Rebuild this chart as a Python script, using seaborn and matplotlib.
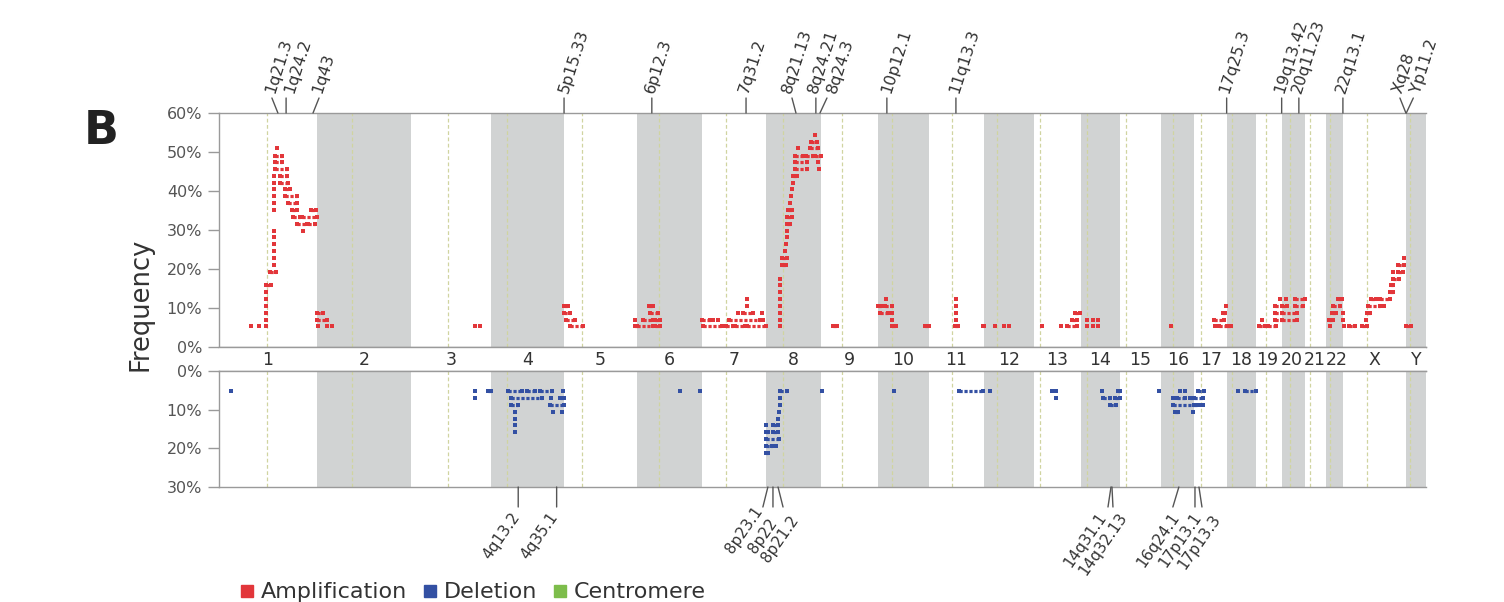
import numpy as np
import pandas as pd
import matplotlib
matplotlib.use("Agg")
import matplotlib.pyplot as plt
from matplotlib.lines import Line2D
import seaborn as sns

# ---------------- data ----------------
CHROMS = ["1", "2", "3", "4", "5", "6", "7", "8", "9", "10", "11", "12",
          "13", "14", "15", "16", "17", "18", "19", "20", "21", "22", "X", "Y"]
CHROM_LEN = [251, 241, 205, 187, 187, 167, 164, 141, 146, 131, 141, 128,
             120.5, 100, 105, 86, 83, 74, 67, 59, 54, 44, 161.5, 51]
CENTROMERE = [123, 90, 94, 42.5, 47, 56, 61, 43, 55, 37, 58, 34,
              15, 16, 15, 30, 18, 12, 27, 20.5, 13, 10, 61, 10]

# (chromosome, start Mb, end Mb, frequency %)
AMP_SEGMENTS = [
    ("1", 81, 81, 5.3), ("1", 103, 103, 5.3), ("1", 120.5, 120.5, 5.3),
    ("1", 120.5, 120.5, 7.0), ("1", 120.5, 120.5, 8.8), ("1", 120.5, 120.5, 10.5),
    ("1", 120.5, 120.5, 12.3), ("1", 120.5, 120.5, 14.0), ("1", 120, 133, 15.8),
    ("1", 131, 145, 19.3),
    ("1", 141, 141, 21.1), ("1", 141, 141, 22.8), ("1", 141, 141, 24.6), ("1", 141, 141, 26.3),
    ("1", 141, 141, 28.1), ("1", 141, 141, 29.8), ("1", 141, 141, 35.1), ("1", 141, 141, 36.8),
    ("1", 141, 141, 38.6), ("1", 141, 141, 40.4), ("1", 141, 141, 42.1), ("1", 141, 141, 43.9),
    ("1", 148, 148, 50.9), ("1", 143.5, 161, 49.1), ("1", 143.5, 161, 47.4),
    ("1", 143.5, 173.5, 45.6), ("1", 156, 173.5, 43.9), ("1", 156, 177, 42.1),
    ("1", 169, 182, 40.4), ("1", 169, 199, 38.6), ("1", 177, 199, 36.8),
    ("1", 186, 199, 35.1), ("1", 235, 249, 35.1), ("1", 189, 208, 33.3), ("1", 212, 250, 33.3),
    ("1", 199, 225, 31.6), ("1", 228, 246, 31.6), ("1", 216, 216, 29.8),
    ("2", 0, 14.5, 8.8), ("2", 1, 25, 7.0), ("2", 3, 3, 5.3), ("2", 25, 25, 5.3), ("2", 39, 39, 5.3),
    ("3", 164, 164, 5.3), ("3", 177, 177, 5.3),
    ("5", 0, 11, 10.5), ("5", 0, 17, 8.8), ("5", 5, 28, 7.0), ("5", 17, 48, 5.3),
    ("5", 182, 182, 7.0), ("5", 182, 187, 5.3),
    ("6", 31, 41, 10.5), ("6", 33, 54, 8.8), ("6", 15, 41, 7.0), ("6", 46, 59, 7.0),
    ("6", 0, 41, 5.3), ("6", 46, 59, 5.3),
    ("7", 0, 20.5, 7.0), ("7", 28, 28, 7.0), ("7", 42, 42, 7.0), ("7", 69, 149, 7.0),
    ("7", 155.6, 155.6, 7.0), ("7", 2, 50.5, 5.3), ("7", 54, 54, 5.3), ("7", 61.5, 79.5, 5.3),
    ("7", 84.6, 110, 5.3), ("7", 114.6, 164, 5.3), ("7", 91.5, 91.5, 8.8), ("7", 105, 131, 8.8),
    ("7", 153, 153, 8.8), ("7", 116, 116, 10.5), ("7", 116, 116, 12.3),
    ("8", 36, 36, 5.3), ("8", 36, 36, 7.0), ("8", 36, 36, 8.8), ("8", 36, 36, 10.5),
    ("8", 36, 36, 12.3), ("8", 36, 36, 14.0), ("8", 36, 36, 15.8), ("8", 36, 36, 17.5),
    ("8", 40, 51, 21.1), ("8", 40, 53, 22.8), ("8", 49, 49, 24.6), ("8", 51, 51, 26.3),
    ("8", 53, 53, 28.1), ("8", 54.7, 54.7, 29.8), ("8", 54, 61.5, 31.6), ("8", 54, 66, 33.3),
    ("8", 57, 66, 35.1), ("8", 61.5, 61.5, 36.8), ("8", 64, 64, 38.6), ("8", 66, 66, 40.4),
    ("8", 68.5, 68.5, 42.1), ("8", 70, 79, 43.9), ("8", 74, 104, 45.6), ("8", 136, 136, 45.6),
    ("8", 74, 104, 47.4), ("8", 133, 133, 47.4), ("8", 74, 95, 49.1), ("8", 102.6, 120.5, 49.1),
    ("8", 125.6, 141, 49.1), ("8", 81, 81, 50.9), ("8", 113, 134, 50.9), ("8", 114.6, 130, 52.6),
    ("8", 125.6, 125.6, 54.4),
    ("9", 31, 40, 5.3),
    ("10", 22, 22, 12.3), ("10", 0, 9.5, 10.5), ("10", 18, 35, 10.5), ("10", 5, 25.6, 8.8),
    ("10", 35, 35, 8.8), ("10", 36.7, 36.7, 7.0), ("10", 36.7, 46, 5.3), ("10", 120.5, 130, 5.3),
    ("11", 70, 70, 7.0), ("11", 70, 70, 8.8), ("11", 70, 70, 10.5), ("11", 70, 70, 12.3),
    ("11", 67, 74, 5.3), ("11", 138, 140, 5.3),
    ("12", 28, 28, 5.3), ("12", 51, 51, 5.3), ("12", 65, 65, 5.3),
    ("13", 20, 20, 5.3), ("13", 68.5, 68.5, 5.3), ("13", 84, 109.5, 5.3), ("13", 96.7, 111, 7.0),
    ("13", 105.6, 118, 8.8),
    ("14", 16, 16, 5.3), ("14", 31.5, 31.5, 5.3), ("14", 44, 44, 5.3),
    ("14", 16, 16, 7.0), ("14", 31.5, 31.5, 7.0), ("14", 44, 44, 7.0),
    ("16", 25, 25, 5.3),
    ("17", 52.5, 52.5, 5.3), ("17", 63.6, 83, 5.3), ("17", 50, 75.6, 7.0), ("17", 72, 78, 8.8),
    ("17", 81, 81, 10.5),
    ("18", 0, 11, 5.3),
    ("19", 8.5, 23, 5.3), ("19", 31.5, 51, 5.3), ("19", 17, 17, 7.0), ("19", 49, 66.5, 7.0),
    ("19", 49, 66.5, 8.8), ("19", 49, 66.5, 10.5), ("19", 61.5, 61.5, 12.3),
    ("20", 0, 38, 7.0), ("20", 0, 38, 8.8), ("20", 0, 13, 10.5), ("20", 33, 54, 10.5),
    ("20", 10, 10, 12.3), ("20", 33, 59, 12.3),
    ("22", 10, 10, 5.3), ("22", 8.5, 19, 7.0), ("22", 14.6, 27, 8.8), ("22", 18, 36, 10.5),
    ("22", 31, 40, 12.3), ("22", 43, 43, 8.8), ("22", 43, 43, 7.0),
    ("X", 2.6, 2.6, 5.3), ("X", 16, 31, 5.3), ("X", 48, 61, 5.3), ("X", 59, 59, 7.0),
    ("X", 61, 69, 8.8), ("X", 64, 95, 10.5), ("X", 105, 105, 10.5), ("X", 71, 84.6, 12.3),
    ("X", 95, 120.5, 12.3), ("X", 120.5, 127.5, 14.0), ("X", 122, 129, 15.8),
    ("X", 127.5, 144.5, 17.5), ("X", 129, 129, 19.3), ("X", 142, 154.6, 19.3),
    ("X", 142, 156, 21.1), ("X", 156, 156, 22.8),
    ("Y", 0, 12, 5.3),
]

DEL_SEGMENTS = [
    ("1", 30, 30, 5.3),
    ("3", 164, 164, 5.3), ("3", 164, 164, 7.0), ("3", 198, 205, 5.3),
    ("4", 44, 79, 5.3), ("4", 91.5, 113, 5.3), ("4", 125.6, 155.6, 5.3), ("4", 184, 184, 5.3),
    ("4", 50.5, 130, 7.0), ("4", 153, 153, 7.0), ("4", 177, 187, 7.0),
    ("4", 50.5, 70, 8.8), ("4", 151, 187, 8.8),
    ("4", 61.5, 61.5, 10.5), ("4", 160, 160, 10.5), ("4", 181, 181, 10.5),
    ("4", 61.5, 61.5, 12.3), ("4", 61.5, 61.5, 14.0), ("4", 61.5, 61.5, 15.8),
    ("6", 110, 110, 5.3), ("6", 161.5, 161.5, 5.3),
    ("8", 36, 54.6, 5.3), ("8", 36, 36, 7.0), ("8", 36, 36, 8.8), ("8", 33, 33, 10.5),
    ("8", 31.5, 31.5, 12.3), ("8", 0, 0, 14.0), ("8", 17, 31.5, 14.0), ("8", 0, 6, 15.8),
    ("8", 17, 31.5, 15.8), ("8", 0, 33, 17.5), ("8", 0, 14.6, 19.3), ("8", 26, 26, 19.3),
    ("8", 0, 6, 21.1),
    ("9", 2, 2, 5.3),
    ("10", 42, 42, 5.3),
    ("11", 78, 139, 5.3),
    ("12", 15, 15, 5.3),
    ("13", 45.4, 45.4, 5.3), ("13", 56.4, 56.4, 5.3), ("13", 56.4, 56.4, 7.0),
    ("14", 53, 53, 5.3), ("14", 95.6, 100, 5.3), ("14", 55.6, 74, 7.0), ("14", 87, 100, 7.0),
    ("14", 74, 90, 8.8),
    ("15", 101, 101, 5.3),
    ("16", 48.7, 48.7, 5.3), ("16", 61.5, 61.5, 5.3), ("16", 30, 30, 7.0), ("16", 40, 61.5, 7.0),
    ("16", 74, 86, 7.0), ("16", 30, 86, 8.8), ("16", 36, 44, 10.5), ("16", 83, 83, 10.5),
    ("17", 10, 24, 5.3), ("17", 0, 22.5, 7.0), ("17", 0, 5.6, 8.8), ("17", 12.3, 12.3, 8.8),
    ("17", 22.5, 22.5, 8.8),
    ("18", 29, 29, 5.3), ("18", 46, 74, 5.3),
]

# cytoband annotations (chromosome, position Mb, label)
TOP_BANDS = [("1", 151, "1q21.3"), ("1", 172, "1q24.2"), ("1", 241, "1q43"),
             ("5", 0.5, "5p15.33"), ("6", 38.5, "6p12.3"), ("7", 113, "7q31.2"),
             ("8", 77, "8q21.13"), ("8", 128, "8q24.21"), ("8", 138.5, "8q24.3"),
             ("10", 23, "10p12.1"), ("11", 69, "11q13.3"), ("17", 82.5, "17q25.3"),
             ("19", 66.5, "19q13.42"), ("20", 43.6, "20q11.23"), ("22", 43.5, "22q13.1"),
             ("X", 161, "Xq28"), ("Y", 0.5, "Yp11.2")]
BOTTOM_BANDS = [("4", 70, "4q13.2"), ("4", 168.5, "4q35.1"), ("8", 5, "8p23.1"),
                ("8", 18, "8p22"), ("8", 31, "8p21.2"), ("14", 77, "14q31.1"),
                ("14", 79.5, "14q32.13"), ("16", 46, "16q24.1"), ("17", 1.3, "17p13.1"),
                ("17", 11.5, "17p13.3")]

# ---------------- styling (pixel offsets of the labels) ----------------
TOP_FAN_PX = {"1q21.3": -6, "1q43": 6, "8q21.13": -4, "8q24.3": 7, "Xq28": -6, "Yp11.2": 7}
TOP_TEXT_DX = {"1q24.2": 7, "8q24.3": 9, "8q24.21": 1, "8q21.13": -1, "5p15.33": 4,
               "10p12.1": 4, "Yp11.2": 7, "20q11.23": 2}
BOT_FAN_PX = {"8p23.1": -5, "8p21.2": 5, "14q31.1": -3, "14q32.13": 1, "16q24.1": -6, "17p13.3": 3}
BOT_TEXT_D = {"8p23.1": (0, 4), "8p22": (5, 16), "8p21.2": (16, 13), "14q31.1": (-1, 10),
              "14q32.13": (15, 10), "16q24.1": (7, 10), "17p13.1": (7, 10), "17p13.3": (19, 12)}
CHROM_LABEL_NUDGE_PX = {"19": -2, "20": -1.5, "21": -1, "22": 2}

AMP_COLOR = "#e2363a"
DEL_COLOR = "#3350a3"
CEN_COLOR = "#7dbd4b"
CEN_LINE = "#d0d4a0"
BAND_GRAY = "#d1d3d3"
SPINE = "#9a9a9a"
TEXT = "#333333"
TICK = "#555555"

sns.set_theme(style="white")
plt.rcParams["font.family"] = ["DejaVu Sans"]

starts = np.concatenate([[0.0], np.cumsum(CHROM_LEN)[:-1]])
offset = dict(zip(CHROMS, starts))
total = float(np.sum(CHROM_LEN))


def seg_frame(segs, kind):
    df = pd.DataFrame(segs, columns=["chrom", "start", "end", "freq"])
    df["x0"] = df["chrom"].map(offset) + df["start"]
    df["x1"] = df["chrom"].map(offset) + df["end"]
    df["kind"] = kind
    return df


amp = seg_frame(AMP_SEGMENTS, "Amplification")
dele = seg_frame(DEL_SEGMENTS, "Deletion")

W, H = 1504, 602
fig = plt.figure(figsize=(W / 100, H / 100), dpi=100)
L, R = 219 / W, 1426 / W
ax_up = fig.add_axes([L, 1 - 347 / H, R - L, 234 / H])
ax_band = fig.add_axes([L, 1 - 371 / H, R - L, 24 / H])
ax_dn = fig.add_axes([L, 1 - 487 / H, R - L, 116 / H])

for ax in (ax_up, ax_band, ax_dn):
    ax.set_xlim(0, total)
    ax.set_facecolor("white")
    for s in ax.spines.values():
        s.set_color(SPINE)
        s.set_linewidth(1.0)
    ax.spines["right"].set_visible(False)
    ax.set_xticks([])

ax_band.spines["left"].set_visible(False)
ax_band.set_yticks([])

for ax in (ax_up, ax_dn):
    for i, (c, ln, cen) in enumerate(zip(CHROMS, CHROM_LEN, CENTROMERE)):
        if i % 2 == 1:
            ax.axvspan(offset[c], offset[c] + ln, color=BAND_GRAY, lw=0, zorder=0)
        ax.axvline(offset[c] + cen, color=CEN_LINE, lw=0.9, ls=(0, (3, 2)), zorder=1)


def draw(ax, df, color):
    long = df[df["x1"] > df["x0"]]
    ax.hlines(long["freq"], long["x0"], long["x1"], colors=color, linewidth=2.3,
              linestyles=(0, (1.0, 0.55)), zorder=3)
    pts = pd.concat([df[["x0", "freq", "kind"]].rename(columns={"x0": "x"}),
                     df[["x1", "freq", "kind"]].rename(columns={"x1": "x"})])
    sns.scatterplot(data=pts, x="x", y="freq", color=color, marker="s", s=7,
                    linewidth=0, ax=ax, legend=False, zorder=4)
    ax.set_xlabel("")
    ax.set_ylabel("")


draw(ax_up, amp, AMP_COLOR)
draw(ax_dn, dele, DEL_COLOR)

ax_up.set_ylim(0, 60)
ax_up.set_yticks(range(0, 61, 10))
ax_up.set_yticklabels([f"{v}%" for v in range(0, 61, 10)])
ax_dn.set_ylim(30, 0)
ax_dn.set_yticks(range(0, 31, 10))
ax_dn.set_yticklabels([f"{v}%" for v in range(0, 31, 10)])
for ax in (ax_up, ax_dn):
    ax.set_xlim(0, total)
    ax.tick_params(axis="y", direction="out", length=8, width=1, color=SPINE,
                   labelsize=11.5, labelcolor=TICK, pad=4, left=True)

PX2PT = 0.72
for c, ln in zip(CHROMS, CHROM_LEN):
    ax_band.annotate(c, xy=(offset[c] + ln / 2, 0.45), xycoords=("data", "axes fraction"),
                     xytext=(CHROM_LABEL_NUDGE_PX.get(c, 0) * PX2PT, 0),
                     textcoords="offset points", ha="center", va="center",
                     fontsize=12.5, color=TEXT)

LINE_KW = dict(arrowstyle="-", color="#555555", lw=1.0, shrinkA=0, shrinkB=0)

# top cytoband labels
for c, pos, lab in TOP_BANDS:
    x = offset[c] + pos
    fan = TOP_FAN_PX.get(lab, 0)
    ax_up.annotate("", xy=(x, 1), xycoords=("data", "axes fraction"),
                   xytext=(fan * PX2PT, 15 * PX2PT), textcoords="offset points",
                   arrowprops=LINE_KW)
    tdx = fan + TOP_TEXT_DX.get(lab, 2)
    ax_up.annotate(lab, xy=(x, 1), xycoords=("data", "axes fraction"),
                   xytext=(tdx * PX2PT, 19 * PX2PT), textcoords="offset points",
                   rotation=72, rotation_mode="anchor", ha="left", va="baseline",
                   fontsize=11.5, color=TEXT, annotation_clip=False)

# bottom cytoband labels
for c, pos, lab in BOTTOM_BANDS:
    x = offset[c] + pos
    fan = BOT_FAN_PX.get(lab, 0)
    ax_dn.annotate("", xy=(x, 0), xycoords=("data", "axes fraction"),
                   xytext=(fan * PX2PT, -20 * PX2PT), textcoords="offset points",
                   arrowprops=LINE_KW)
    tdx, tdy = BOT_TEXT_D.get(lab, (2, 10))
    ax_dn.annotate(lab, xy=(x, 0), xycoords=("data", "axes fraction"),
                   xytext=((fan + tdx) * PX2PT, -(20 + tdy) * PX2PT), textcoords="offset points",
                   rotation=55, rotation_mode="anchor", ha="right", va="baseline",
                   fontsize=11, color=TEXT, annotation_clip=False)

fig.text(84 / W, 1 - 132 / H, "B", fontsize=33, fontweight="bold", color="#222222",
         ha="left", va="center")
fig.text(140 / W, 1 - 304 / H, "Frequency", rotation=90, fontsize=18.5, color=TEXT,
         ha="center", va="center")

handles = [Line2D([], [], marker="s", ls="", color=col, markersize=9)
           for col in (AMP_COLOR, DEL_COLOR, CEN_COLOR)]
fig.legend(handles, ["Amplification", "Deletion", "Centromere"], loc="lower left",
           bbox_to_anchor=(220 / W, -0.034), ncol=3, frameon=False, fontsize=16,
           handlelength=0.6, handletextpad=0.35, columnspacing=0.7, labelcolor=TEXT)

fig.savefig("out.png", dpi=100)
